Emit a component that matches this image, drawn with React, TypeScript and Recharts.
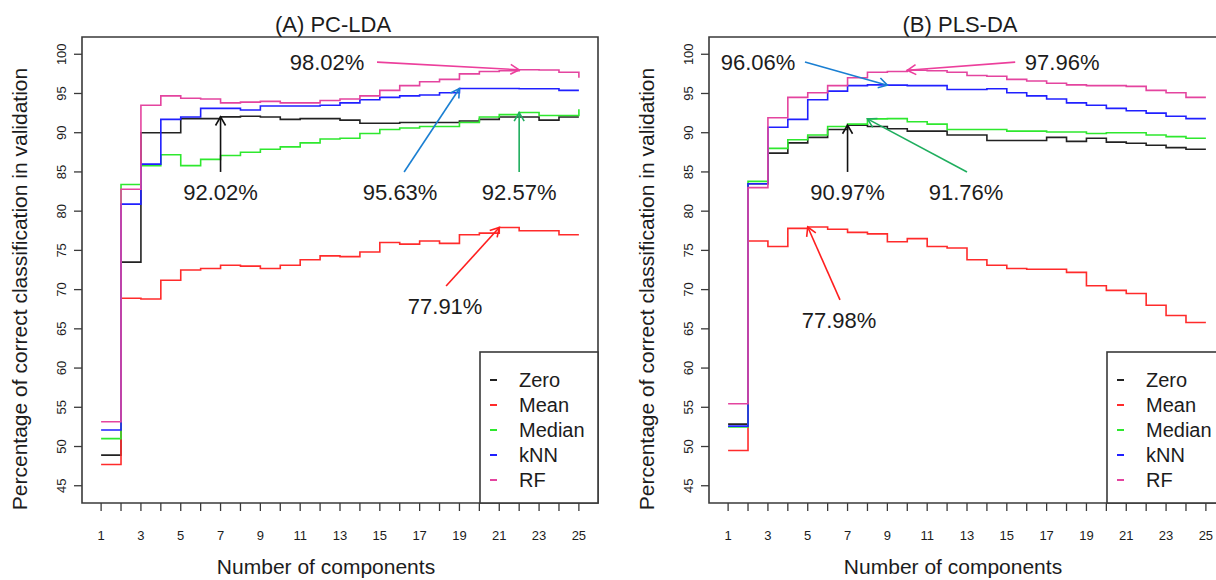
import React from "react";
import { LineChart, Line, XAxis, YAxis, ReferenceArea, ReferenceLine, ReferenceDot } from "recharts";

// number of components on the x axis
const components = [1, 2, 3, 4, 5, 6, 7, 8, 9, 10, 11, 12, 13, 14, 15, 16, 17, 18, 19, 20, 21, 22, 23, 24, 25];
const yTicks = [45, 50, 55, 60, 65, 70, 75, 80, 85, 90, 95, 100];

// (A) PC-LDA
const ldaZero = [48.9, 73.5, 90.0, 90.0, 91.8, 91.8, 92.02, 92.1, 92.0, 91.7, 91.8, 91.8, 91.6, 91.2, 91.2, 91.3, 91.3, 91.3, 91.5, 91.7, 92.0, 92.0, 91.6, 92.0, 92.0];
const ldaMean = [47.7, 68.9, 68.8, 71.2, 72.5, 72.7, 73.1, 73.0, 72.7, 73.1, 73.8, 74.3, 74.2, 74.8, 76.0, 75.8, 76.2, 75.9, 77.0, 77.2, 77.91, 77.5, 77.5, 77.0, 77.0];
const ldaMedian = [51.0, 83.4, 85.8, 87.2, 85.8, 86.6, 87.1, 87.5, 87.9, 88.2, 88.7, 89.2, 89.3, 89.9, 90.4, 90.6, 90.8, 90.8, 91.3, 92.0, 92.3, 92.57, 92.2, 92.2, 93.0];
const ldaKnn = [52.1, 80.9, 86.0, 91.7, 92.0, 93.1, 93.1, 92.9, 93.4, 93.4, 93.4, 93.5, 93.8, 94.2, 94.5, 94.7, 94.8, 95.1, 95.63, 95.63, 95.63, 95.6, 95.6, 95.4, 95.4];
const ldaRf = [53.15, 82.8, 93.5, 94.7, 94.4, 94.3, 93.8, 93.9, 94.0, 93.8, 93.8, 94.1, 94.3, 94.7, 95.4, 96.0, 96.5, 96.8, 97.5, 97.8, 97.9, 98.02, 98.0, 97.7, 97.0];

// (B) PLS-DA
const plsZero = [52.85, 83.5, 87.4, 88.7, 89.4, 90.4, 90.97, 90.8, 90.5, 90.2, 90.2, 89.7, 89.7, 89.0, 89.0, 89.0, 89.4, 88.9, 89.3, 88.8, 88.65, 88.4, 88.1, 87.9, 87.9];
const plsMean = [49.5, 76.2, 75.5, 77.8, 77.98, 77.7, 77.3, 77.1, 76.1, 76.5, 75.5, 75.3, 73.8, 73.1, 72.7, 72.6, 72.6, 72.2, 70.5, 69.9, 69.5, 68.0, 66.7, 65.8, 65.8];
const plsMedian = [52.5, 83.8, 88.0, 89.1, 89.7, 90.8, 91.1, 91.76, 91.8, 91.4, 91.1, 90.4, 90.4, 90.4, 90.2, 90.2, 90.1, 90.1, 89.9, 90.0, 90.0, 89.7, 89.5, 89.3, 89.3];
const plsKnn = [52.6, 83.5, 90.7, 91.7, 94.2, 95.3, 96.0, 96.1, 96.06, 96.0, 96.0, 95.5, 95.5, 95.6, 95.1, 94.7, 94.3, 93.8, 93.5, 93.1, 92.8, 92.5, 92.1, 91.8, 91.8];
const plsRf = [55.45, 83.0, 91.9, 94.5, 95.1, 96.0, 97.0, 97.7, 97.8, 97.96, 97.9, 97.7, 97.3, 97.2, 96.8, 96.6, 96.3, 96.1, 96.0, 96.0, 95.9, 95.4, 95.1, 94.5, 94.5];

const seriesNames = ["Zero", "Mean", "Median", "kNN", "RF"];
const seriesKeys = ["zero", "mean", "median", "knn", "rf"];
const seriesColors = ["#222222", "#ff2b2b", "#2ee82e", "#2020ff", "#e4449f"];

const FONT = "'Liberation Sans', Arial, sans-serif";
const INK = "#1c1c1c";
const AXIS = "#3a3a3a";
const W = 627;
const H = 580;

// arrow annotations: which series/component is pointed at, where text and arrow tail sit (data units)
const notesA = [
  { key: "zero", comp: 7, color: "#111111", text: [7.0, 82.4], tail: [7.0, 85.0] },
  { key: "rf", comp: 22, color: "#ec3f9c", text: [12.35, 98.9], tail: [14.86, 99.0] },
  { key: "knn", comp: 19, color: "#1a7fd2", text: [16.02, 82.4], tail: [16.22, 85.0] },
  { key: "median", comp: 22, color: "#1fae5e", text: [22.0, 82.4], tail: [22.0, 85.0] },
  { key: "mean", comp: 21, color: "#ff1f1f", text: [18.28, 67.9], tail: [18.33, 70.46] },
];
const notesB = [
  { key: "knn", comp: 9, color: "#1a7fd2", text: [2.5, 98.9], tail: [4.86, 99.0] },
  { key: "rf", comp: 10, color: "#ec3f9c", text: [17.78, 98.9], tail: [15.42, 99.0] },
  { key: "zero", comp: 7, color: "#111111", text: [7.0, 82.4], tail: [7.0, 85.0] },
  { key: "median", comp: 8, color: "#1fae5e", text: [12.95, 82.4], tail: [13.0, 85.0] },
  { key: "mean", comp: 5, color: "#ff1f1f", text: [6.57, 66.0], tail: [6.62, 68.7] },
];

const arrowShape = (color: string) => (p: any) => {
  const { x1, y1, x2, y2 } = p;
  const ang = Math.atan2(y2 - y1, x2 - x1);
  const len = 10;
  const a1 = ang + Math.PI - Math.PI / 6;
  const a2 = ang + Math.PI + Math.PI / 6;
  const pts = `${x2 + len * Math.cos(a1)},${y2 + len * Math.sin(a1)} ${x2},${y2} ${x2 + len * Math.cos(a2)},${y2 + len * Math.sin(a2)}`;
  return (
    <g>
      <line x1={x1} y1={y1} x2={x2} y2={y2} stroke={color} strokeWidth={1.6} />
      <polyline points={pts} fill="none" stroke={color} strokeWidth={1.6} />
    </g>
  );
};

const XTick = (p: any) => {
  const v = p.payload.value;
  if (v % 2 === 0) return <g />; // R skips every other label
  return (
    <text x={p.x} y={p.y + 27} textAnchor="middle" fontSize={13} fontFamily={FONT} fill={INK}>
      {v}
    </text>
  );
};

const YTick = (p: any) => {
  const bx = p.x - 6;
  return (
    <text x={bx} y={p.y} transform={`rotate(-90, ${bx}, ${p.y})`} textAnchor="middle" fontSize={13} fontFamily={FONT} fill={INK}>
      {p.payload.value}
    </text>
  );
};

const Panel = ({ title, values, notes, left }: { title: string; values: number[][]; notes: typeof notesA; left: number }) => {
  const data = components.map((c, i) => {
    const row: any = { comp: c };
    seriesKeys.forEach((k, s) => (row[k] = values[s][i]));
    return row;
  });

  return (
    <div style={{ position: "absolute", left, top: 0, width: W, height: H }}>
      <LineChart width={W} height={H} data={data} margin={{ top: 37, right: 29, bottom: 37, left: 22 }}>
        <XAxis
          dataKey="comp"
          type="number"
          domain={[0.04, 25.96]}
          ticks={components}
          interval={0}
          allowDataOverflow
          tickSize={8}
          axisLine={false}
          tickLine={{ stroke: AXIS, strokeWidth: 1.3 }}
          tick={XTick}
          height={40}
        />
        <YAxis
          type="number"
          domain={[42.8, 102.2]}
          ticks={yTicks}
          interval={0}
          allowDataOverflow
          tickSize={8}
          axisLine={false}
          tickLine={{ stroke: AXIS, strokeWidth: 1.3 }}
          tick={YTick}
          width={60}
        />
        <ReferenceArea x1={0.04} x2={25.96} y1={42.8} y2={102.2} fill="none" stroke={AXIS} strokeWidth={1.6} ifOverflow="visible" />
        {seriesKeys.map((k, s) => (
          <Line
            key={k}
            type="stepAfter"
            dataKey={k}
            stroke={seriesColors[s]}
            strokeWidth={1.6}
            dot={false}
            activeDot={false}
            isAnimationActive={false}
          />
        ))}
        {notes.map((n, i) => {
          const v = values[seriesKeys.indexOf(n.key)][n.comp - 1];
          return (
            <ReferenceLine
              key={"a" + i}
              segment={[{ x: n.tail[0], y: n.tail[1] }, { x: n.comp, y: v }]}
              ifOverflow="visible"
              shape={arrowShape(n.color)}
            />
          );
        })}
        {notes.map((n, i) => {
          const v = values[seriesKeys.indexOf(n.key)][n.comp - 1];
          return (
            <ReferenceDot
              key={"t" + i}
              x={n.text[0]}
              y={n.text[1]}
              r={0}
              ifOverflow="visible"
              shape={(p: any) => (
                <text x={p.cx} y={p.cy} textAnchor="middle" dominantBaseline="central" fontSize={22} fontFamily={FONT} fill={INK}>
                  {v.toFixed(2) + "%"}
                </text>
              )}
            />
          );
        })}
      </LineChart>
      <svg width={W} height={H} style={{ position: "absolute", left: 0, top: 0, pointerEvents: "none", overflow: "visible" }}>
        <text x={333} y={32} textAnchor="middle" fontSize={22} fontFamily={FONT} fill={INK}>
          {title}
        </text>
        <text x={326} y={574} textAnchor="middle" fontSize={21} fontFamily={FONT} fill={INK}>
          Number of components
        </text>
        <text x={27} y={289} transform="rotate(-90, 27, 289)" textAnchor="middle" fontSize={21} fontFamily={FONT} fill={INK}>
          Percentage of correct classification in validation
        </text>
        <rect x={480} y={352} width={118} height={151} fill="#fff" stroke={AXIS} strokeWidth={1.6} />
        {seriesNames.map((name, s) => {
          const cy = 380 + s * 25;
          return (
            <g key={name}>
              <line x1={490} x2={497} y1={cy} y2={cy} stroke={seriesColors[s]} strokeWidth={2} />
              <text x={519} y={cy} dominantBaseline="central" fontSize={20} fontFamily={FONT} fill={INK}>
                {name}
              </text>
            </g>
          );
        })}
      </svg>
    </div>
  );
};

export default function App() {
  return (
    <div style={{ position: "absolute", left: 0, top: 0, width: 1216, height: 580, overflow: "hidden", background: "#fff" }}>
      <Panel title="(A) PC-LDA" values={[ldaZero, ldaMean, ldaMedian, ldaKnn, ldaRf]} notes={notesA} left={0} />
      <Panel title="(B) PLS-DA" values={[plsZero, plsMean, plsMedian, plsKnn, plsRf]} notes={notesB} left={627} />
    </div>
  );
}
